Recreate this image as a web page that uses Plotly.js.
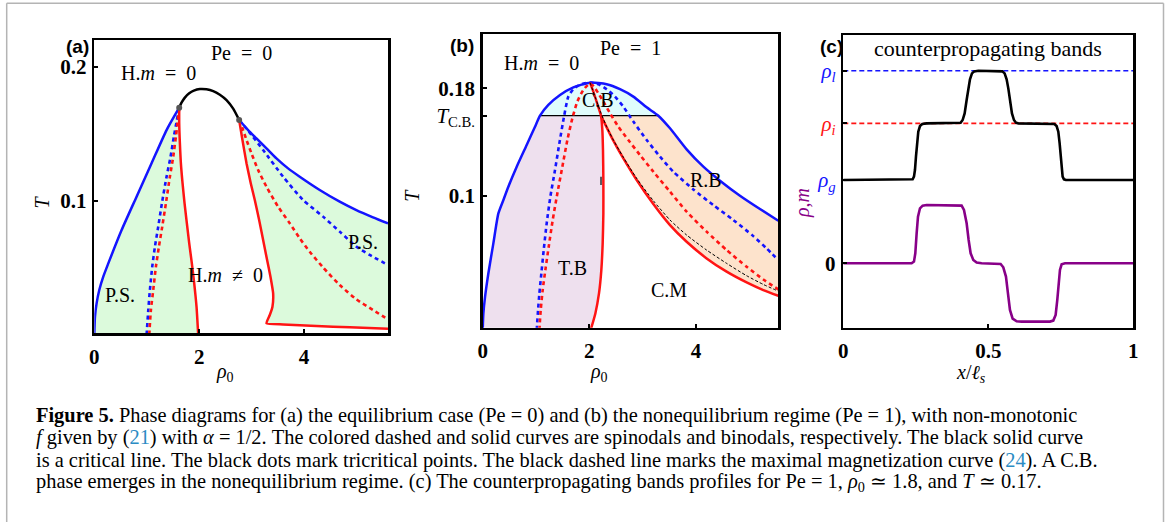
<!DOCTYPE html>
<html><head><meta charset="utf-8">
<script src="https://cdn.plot.ly/plotly-3.0.1.min.js"></script>
<style>html,body{margin:0;padding:0;background:#fff;}#chart{width:1167px;height:522px;}</style>
</head><body><div id="chart"></div>
<script>
// ---------- Panel (a): Pe = 0 ----------
const a_crit_x = [1.619, 1.663, 1.727, 1.810, 1.898, 2.013, 2.140, 2.267, 2.394, 2.521, 2.648, 2.762];
const a_crit_y = [0.1694, 0.1731, 0.1769, 0.1801, 0.1821, 0.1833, 0.1831, 0.1818, 0.1791, 0.1751, 0.1687, 0.1602];
const a_blueL_x = [0, 0.013, 0.044, 0.095, 0.171, 0.267, 0.521, 0.806, 1.092, 1.378, 1.619];
const a_blueL_y = [0.0, 0.0134, 0.0234, 0.0333, 0.0433, 0.0532, 0.0781, 0.1030, 0.1279, 0.1527, 0.1694];
const a_blueLdot_x = [0.997, 1.029, 1.060, 1.105, 1.156, 1.219, 1.289, 1.378, 1.454, 1.517, 1.575, 1.619];
const a_blueLdot_y = [0.0, 0.0184, 0.0333, 0.0508, 0.0657, 0.0806, 0.0980, 0.1179, 0.1328, 0.1478, 0.1602, 0.1694];
const a_redLdot_x = [1.048, 1.079, 1.124, 1.175, 1.232, 1.295, 1.365, 1.441, 1.505, 1.556, 1.594, 1.619];
const a_redLdot_y = [0.0, 0.0184, 0.0333, 0.0508, 0.0657, 0.0806, 0.0980, 0.1179, 0.1328, 0.1478, 0.1602, 0.1694];
const a_redL_x = [1.619, 1.619, 1.632, 1.651, 1.683, 1.721, 1.765, 1.810, 1.860, 1.905, 1.949, 1.981];
const a_redL_y = [0.1694, 0.1577, 0.1428, 0.1279, 0.1129, 0.0980, 0.0831, 0.0682, 0.0532, 0.0383, 0.0209, 0.0];
const a_redR_x = [2.762, 2.825, 2.902, 2.984, 3.060, 3.143, 3.219, 3.295, 3.359, 3.410, 3.397, 3.346, 3.283, 3.600, 4.235, 4.870, 5.600];
const a_redR_y = [0.1602, 0.1453, 0.1279, 0.1129, 0.1005, 0.0856, 0.0706, 0.0557, 0.0433, 0.0308, 0.0209, 0.0147, 0.0085, 0.0077, 0.0065, 0.0055, 0.0045];
const a_blueR_x = [2.762, 2.933, 3.092, 3.283, 3.473, 3.695, 3.917, 4.298, 4.679, 4.997, 5.314, 5.600];
const a_blueR_y = [0.1602, 0.1527, 0.1465, 0.1391, 0.1316, 0.1241, 0.1179, 0.1080, 0.0993, 0.0930, 0.0876, 0.0831];
const a_blueRdot_x = [2.762, 2.870, 2.997, 3.219, 3.600, 3.981, 4.362, 4.679, 4.997, 5.251, 5.600];
const a_blueRdot_y = [0.1602, 0.1552, 0.1490, 0.1378, 0.1179, 0.1005, 0.0881, 0.0769, 0.0657, 0.0595, 0.0520];
const a_redRdot_x = [2.762, 2.825, 2.902, 2.997, 3.124, 3.283, 3.505, 3.727, 3.917, 4.108, 4.362, 4.679, 4.997, 5.314, 5.600];
const a_redRdot_y = [0.1602, 0.1540, 0.1453, 0.1353, 0.1229, 0.1104, 0.0955, 0.0831, 0.0719, 0.0619, 0.0502, 0.0371, 0.0264, 0.0184, 0.0114];
const a_tri_x = [1.619, 2.762];
const a_tri_y = [0.1694, 0.1602];
const a_yticks = [0.1, 0.2];
const a_yticktext = ['<b>0.1</b>', '<b>0.2</b>'];
const ab_xticks = [0, 2, 4];
const ab_xticktext = ['<b>0</b>', '<b>2</b>', '<b>4</b>'];

// ---------- Panel (b): Pe = 1 ----------
const b_TCB = 0.1596;
const b_blue_x = [0, 0.0125, 0.044, 0.106, 0.200, 0.294, 0.388, 0.481, 0.638, 0.825, 0.981, 1.075, 1.231, 1.450, 1.700, 2.013, 2.325, 2.575, 2.825, 3.075, 3.294, 3.513, 3.825, 4.138, 4.450, 4.825, 5.200, 5.544];
const b_blue_y = [0.0, 0.0123, 0.0247, 0.0421, 0.0645, 0.0868, 0.0968, 0.1067, 0.1216, 0.1378, 0.1514, 0.1596, 0.1676, 0.1750, 0.1807, 0.1842, 0.1830, 0.1793, 0.1738, 0.1658, 0.1596, 0.1502, 0.1345, 0.1216, 0.1112, 0.1000, 0.0901, 0.0814];
const b_blueDot_x = [1.013, 1.038, 1.063, 1.100, 1.144, 1.200, 1.269, 1.356, 1.438, 1.525, 1.606, 1.713, 1.856, 2.013, 2.169, 2.325, 2.481, 2.638, 2.825, 3.075, 3.325, 3.575, 3.950, 4.325, 4.700, 5.075, 5.325, 5.544];
const b_blueDot_y = [0.0, 0.0148, 0.0272, 0.0421, 0.0595, 0.0794, 0.0993, 0.1191, 0.1390, 0.1589, 0.1738, 0.1800, 0.1832, 0.1842, 0.1830, 0.1793, 0.1738, 0.1663, 0.1552, 0.1415, 0.1291, 0.1179, 0.1047, 0.0930, 0.0819, 0.0699, 0.0607, 0.0520];
const b_redDot_x = [1.063, 1.088, 1.125, 1.175, 1.238, 1.313, 1.400, 1.494, 1.588, 1.681, 1.775, 1.888, 2.013, 2.088, 2.169, 2.263, 2.388, 2.544, 2.731, 2.950, 3.200, 3.513, 3.825, 4.200, 4.575, 4.950, 5.263, 5.544];
const b_redDot_y = [0.0, 0.0148, 0.0297, 0.0446, 0.0620, 0.0819, 0.1017, 0.1216, 0.1415, 0.1576, 0.1701, 0.1788, 0.1837, 0.1812, 0.1763, 0.1701, 0.1614, 0.1514, 0.1415, 0.1303, 0.1179, 0.1030, 0.0881, 0.0732, 0.0595, 0.0471, 0.0376, 0.0302];
const b_redV_x = [2.013, 2.075, 2.150, 2.219, 2.244, 2.256, 2.263, 2.263, 2.250, 2.225, 2.181, 2.113, 2.025];
const b_redV_y = [0.1842, 0.1775, 0.1683, 0.1596, 0.1489, 0.1340, 0.1117, 0.0868, 0.0645, 0.0446, 0.0272, 0.0123, 0.0];
const b_redR_x = [2.219, 2.325, 2.450, 2.638, 2.888, 3.200, 3.513, 3.825, 4.200, 4.575, 4.950, 5.263, 5.544];
const b_redR_y = [0.1596, 0.1509, 0.1410, 0.1278, 0.1117, 0.0938, 0.0781, 0.0657, 0.0533, 0.0434, 0.0354, 0.0297, 0.0255];
const b_maxmag_x = [2.013, 2.106, 2.219, 2.325, 2.450, 2.638, 2.888, 3.200, 3.513, 3.825, 4.200, 4.575, 4.950, 5.263, 5.544];
const b_maxmag_y = [0.1842, 0.1738, 0.1614, 0.1514, 0.1415, 0.1286, 0.1129, 0.0963, 0.0819, 0.0707, 0.0595, 0.0496, 0.0404, 0.0339, 0.0289];
const b_mark_x = [2.219, 2.219];
const b_mark_y = [0.1142, 0.1080];
const b_yticks = [0.1, b_TCB, 0.18];
const b_yticktext = ['<b>0.1</b>', '<i>T</i><sub>C.B.</sub>', '<b>0.18</b>'];

// ---------- Panel (c): counterpropagating bands ----------
const c_rho_l = 2.312, c_rho_i = 1.68, c_rho_g = 1.0;
const c_x_rho = [0, .2322, .2391, .2437, .2471, .2506, .2540, .2586, .2644, .2724, .2874, .3966, .4046, .4115, .4184, .4253, .4310, .4368, .4437, .4517, .4655, .5345, .5483, .5563, .5632, .5690, .5747, .5816, .5885, .5954, .6034, .7126, .7276, .7356, .7414, .7460, .7494, .7529, .7563, .7609, .7678, 1];
const c_rho = [1.0, 1.0, 1.008, 1.04, 1.12, 1.28, 1.44, 1.58, 1.648, 1.672, 1.68, 1.68, 1.688, 1.72, 1.8, 1.96, 2.1, 2.208, 2.28, 2.304, 2.312, 2.312, 2.304, 2.28, 2.208, 2.1, 1.96, 1.8, 1.72, 1.688, 1.68, 1.68, 1.672, 1.648, 1.58, 1.44, 1.28, 1.12, 1.04, 1.008, 1.0, 1.0];
const c_x_m = [0, .2356, .2437, .2483, .2529, .2575, .2644, .2736, .2874, .3966, .4080, .4161, .4253, .4322, .4391, .4483, .4598, .4770, .5287, .5425, .5517, .5609, .5678, .5747, .5839, .5977, .6149, .7126, .7241, .7322, .7379, .7425, .7471, .7529, .7644, 1];
const c_m = [0, 0, .02, .12, .36, .56, .66, .692, .70, .70, .692, .64, .48, .28, .12, .04, .008, 0, 0, -.008, -.048, -.16, -.36, -.56, -.664, -.696, -.70, -.70, -.688, -.62, -.44, -.24, -.08, -.012, 0, 0];
const c_xticks = [0, 0.5, 1];
const c_xticktext = ['<b>0</b>', '<b>0.5</b>', '<b>1</b>'];
const c_yticks = [c_rho_l, c_rho_i, c_rho_g, 0];
const c_yticktext = ['<span style="color:#1414ff"><i>ρ<sub>l</sub></i></span>', '<span style="color:#ff1414"><i>ρ<sub>i</sub></i></span>', '<span style="color:#1414ff"><i>ρ<sub>g</sub></i></span>', '<b>0</b>'];

// ---------- styling ----------
const BLUE = '#1414ff', RED = '#ff1414', BLACK = '#000000', PURPLE = '#880088';
const GREEN = '#dcfadc', CYAN = '#dffcfc', LILAC = '#eee0ee', ORANGE = '#fde3cc';
const SERIF = 'Liberation Serif, Times New Roman, serif';
const SANS = 'Liberation Sans, Arial, sans-serif';
const DOT = '4px,3.5px';
const W = 1167, H = 522;
const PX = v => v / W, PY = v => 1 - v / H;

function line(x, y, ax, color, width, dash, smooth) {
  const ln = {color: color, width: width, dash: dash || 'solid'};
  if (smooth) { ln.shape = 'spline'; ln.smoothing = smooth; }
  return {x: x, y: y, xaxis: 'x' + ax, yaxis: 'y' + ax, mode: 'lines', hoverinfo: 'skip', line: ln};
}
function fillPoly(x, y, ax, color) {
  return {x: x, y: y, xaxis: 'x' + ax, yaxis: 'y' + ax, mode: 'lines', fill: 'toself',
          fillcolor: color, line: {width: 0, color: color}, hoverinfo: 'skip'};
}
const rev = a => a.slice().reverse();
const SM = 0.6;

// panel (b) region polygons built from the curves
const cbIdx = b_blue_y.map((v, i) => i).filter(i => b_blue_y[i] >= b_TCB - 1e-9);
const cb_x = cbIdx.map(i => b_blue_x[i]), cb_y = cbIdx.map(i => b_blue_y[i]);
const leftIdx = b_blue_x.map((v, i) => i).filter(i => b_blue_x[i] <= cb_x[0] + 1e-9);
const rightIdx = b_blue_x.map((v, i) => i).filter(i => b_blue_x[i] >= cb_x[cb_x.length - 1] - 1e-9);
const vIdx = b_redV_y.map((v, i) => i).filter(i => b_redV_y[i] <= b_TCB + 1e-9);

const traces = [
  // (a)
  fillPoly(a_blueL_x.concat(a_redL_x), a_blueL_y.concat(a_redL_y), '', GREEN),
  fillPoly(a_redR_x.concat(rev(a_blueR_x)), a_redR_y.concat(rev(a_blueR_y)), '', GREEN),
  line(a_blueLdot_x, a_blueLdot_y, '', BLUE, 2.6, DOT, SM),
  line(a_redLdot_x, a_redLdot_y, '', RED, 2.6, DOT, SM),
  line(a_blueRdot_x, a_blueRdot_y, '', BLUE, 2.6, DOT, SM),
  line(a_redRdot_x, a_redRdot_y, '', RED, 2.6, DOT, SM),
  line(a_blueL_x, a_blueL_y, '', BLUE, 2.5, null, SM),
  line(a_blueR_x, a_blueR_y, '', BLUE, 2.5, null, SM),
  line(a_redL_x, a_redL_y, '', RED, 2.5, null, SM),
  line(a_redR_x, a_redR_y, '', RED, 2.5, null, 0.4),
  line(a_crit_x, a_crit_y, '', BLACK, 2.5, null, SM),
  {x: a_tri_x, y: a_tri_y, xaxis: 'x', yaxis: 'y', mode: 'markers', hoverinfo: 'skip',
   marker: {color: '#555555', size: 6}},
  // (b)
  fillPoly(cb_x, cb_y, '2', CYAN),
  fillPoly(leftIdx.map(i => b_blue_x[i]).concat(vIdx.map(i => b_redV_x[i])),
           leftIdx.map(i => b_blue_y[i]).concat(vIdx.map(i => b_redV_y[i])), '2', LILAC),
  fillPoly(b_redR_x.concat(rev(rightIdx.map(i => b_blue_x[i]))),
           b_redR_y.concat(rev(rightIdx.map(i => b_blue_y[i]))), '2', ORANGE),
  line([cb_x[0], cb_x[cb_x.length - 1]], [b_TCB, b_TCB], '2', BLACK, 1.3),
  line(b_blueDot_x, b_blueDot_y, '2', BLUE, 2.6, DOT, SM),
  line(b_redDot_x, b_redDot_y, '2', RED, 2.6, DOT, SM),
  line(b_blue_x, b_blue_y, '2', BLUE, 2.5, null, SM),
  line(b_redV_x, b_redV_y, '2', RED, 2.5, null, SM),
  line(b_redR_x, b_redR_y, '2', RED, 2.5, null, SM),
  line(b_maxmag_x, b_maxmag_y, '2', BLACK, 1, '3px,2px', SM),
  line(b_mark_x, b_mark_y, '2', BLACK, 1.2),
  // (c)
  line([0, 1], [c_rho_l, c_rho_l], '3', BLUE, 1.6, '5px,3px'),
  line([0, 1], [c_rho_i, c_rho_i], '3', RED, 1.6, '5px,3px'),
  line(c_x_rho, c_rho, '3', BLACK, 2.6),
  line(c_x_m, c_m, '3', PURPLE, 2.6)
];

const axBase = {showline: true, mirror: true, linecolor: '#000', linewidth: 2.5, ticks: 'inside',
  ticklen: 4, tickwidth: 2, tickcolor: '#000', showgrid: false, zeroline: false, fixedrange: true,
  tickmode: 'array', tickfont: {family: SERIF, size: 21, color: '#000'}};
const xA = (o) => Object.assign({}, axBase, {ticklabelstandoff: 3}, o);
const yA = (o) => Object.assign({}, axBase, {ticklabelstandoff: 1}, o);

function ann(text, x, y, size, opts) {
  return Object.assign({text: text, x: PX(x), y: PY(y), xref: 'paper', yref: 'paper', showarrow: false,
    xanchor: 'center', yanchor: 'middle', font: {family: SERIF, size: size, color: '#000'}}, opts || {});
}
const E = '\u2002';
const capSize = 20.4;
const capOpts = {xanchor: 'left', align: 'left'};
const annotations = [
  ann('<b>(a)</b>', 77, 47, 19, {font: {family: SANS, size: 19, color: '#000'}}),
  ann('<b>(b)</b>', 461.5, 45, 19, {font: {family: SANS, size: 19, color: '#000'}}),
  ann('<b>(c)</b>', 831, 47, 19, {font: {family: SANS, size: 19, color: '#000'}}),
  ann('Pe' + E + '=' + E + '0', 241.7, 53.3, 20),
  ann('H.<i>m</i>' + E + '=' + E + '0', 158.3, 73.3, 20),
  ann('P.S.', 120, 295, 20),
  ann('P.S.', 363.3, 241.7, 20),
  ann('H.<i>m</i>' + E + '≠' + E + '0', 225, 275, 20),
  ann('Pe' + E + '=' + E + '1', 630, 48.3, 20),
  ann('H.<i>m</i>' + E + '=' + E + '0', 541.7, 63.3, 20),
  ann('C.B', 598.3, 100, 20),
  ann('R.B', 706, 180, 20),
  ann('T.B', 572.7, 268.3, 20),
  ann('C.M', 669.3, 290, 20),
  ann('counterpropagating bands', 988, 48.3, 22),
  // axis titles
  ann('<i>ρ</i><sub>0</sub>', 225, 372, 20),
  ann('<i>T</i>', 41.7, 201.7, 20, {textangle: -90}),
  ann('<i>ρ</i><sub>0</sub>', 599, 372, 20),
  ann('<i>T</i>', 411.7, 195, 20, {textangle: -90}),
  ann('<i>x</i>/<i>ℓ<sub>s</sub></i>', 971, 373, 20),
  ann('<span style="color:#880088"><i>ρ</i>,<i>m</i></span>', 803, 203, 20, {textangle: -90}),
  // caption
  ann('<b>Figure 5.</b> Phase diagrams for (a) the equilibrium case (Pe = 0) and (b) the nonequilibrium regime (Pe = 1), with non-monotonic', 34, 415, capSize, capOpts),
  ann('<i>f</i> given by (<span style="color:#2b8cc4">21</span>) with <i>α</i> = 1/2. The colored dashed and solid curves are spinodals and binodals, respectively. The black solid curve', 34, 437.5, capSize, capOpts),
  ann('is a critical line. The black dots mark tricritical points. The black dashed line marks the maximal magnetization curve (<span style="color:#2b8cc4">24</span>). A C.B.', 34, 460, capSize, capOpts),
  ann('phase emerges in the nonequilibrium regime. (c) The counterpropagating bands profiles for Pe = 1, <i>ρ</i><sub>0</sub> ≃ 1.8, and <i>T</i> ≃ 0.17.', 34, 482.5, capSize, capOpts)
];

const frameLine = {color: '#b4b4b4', width: 1.5};
const layout = {
  width: W, height: H, margin: {l: 0, r: 0, t: 0, b: 0}, showlegend: false,
  paper_bgcolor: '#fff', plot_bgcolor: 'rgba(0,0,0,0)', font: {family: SERIF, color: '#000'},
  xaxis: xA({domain: [PX(94.3), PX(388)], range: [0, 5.6], tickvals: ab_xticks, ticktext: ab_xticktext, anchor: 'y'}),
  yaxis: yA({domain: [PY(333), PY(40)], range: [0.00127, 0.2199], tickvals: a_yticks, ticktext: a_yticktext, anchor: 'x'}),
  xaxis2: xA({domain: [PX(482.7), PX(778.3)], range: [0, 5.544], tickvals: ab_xticks, ticktext: ab_xticktext, anchor: 'y2'}),
  yaxis2: yA({domain: [PY(327.7), PY(34)], range: [0.00168, 0.22045], tickvals: b_yticks, ticktext: b_yticktext, anchor: 'x2'}),
  xaxis3: xA({domain: [PX(843.3), PX(1133.3)], range: [0, 1], tickvals: c_xticks, ticktext: c_xticktext, anchor: 'y3'}),
  yaxis3: yA({domain: [PY(327.7), PY(35)], range: [-0.7731, 2.7407], tickvals: c_yticks, ticktext: c_yticktext, anchor: 'x3'}),
  annotations: annotations,
  shapes: [
    {type: 'line', xref: 'paper', yref: 'paper', x0: PX(6.7), x1: PX(1163.5), y0: PY(3.3), y1: PY(3.3), line: frameLine},
    {type: 'line', xref: 'paper', yref: 'paper', x0: PX(6.7), x1: PX(6.7), y0: PY(3.3), y1: 0, line: frameLine},
    {type: 'line', xref: 'paper', yref: 'paper', x0: PX(1163.5), x1: PX(1163.5), y0: PY(3.3), y1: 0, line: frameLine}
  ]
};
Plotly.newPlot('chart', traces, layout, {staticPlot: true, displayModeBar: false});
</script>
</body></html>
